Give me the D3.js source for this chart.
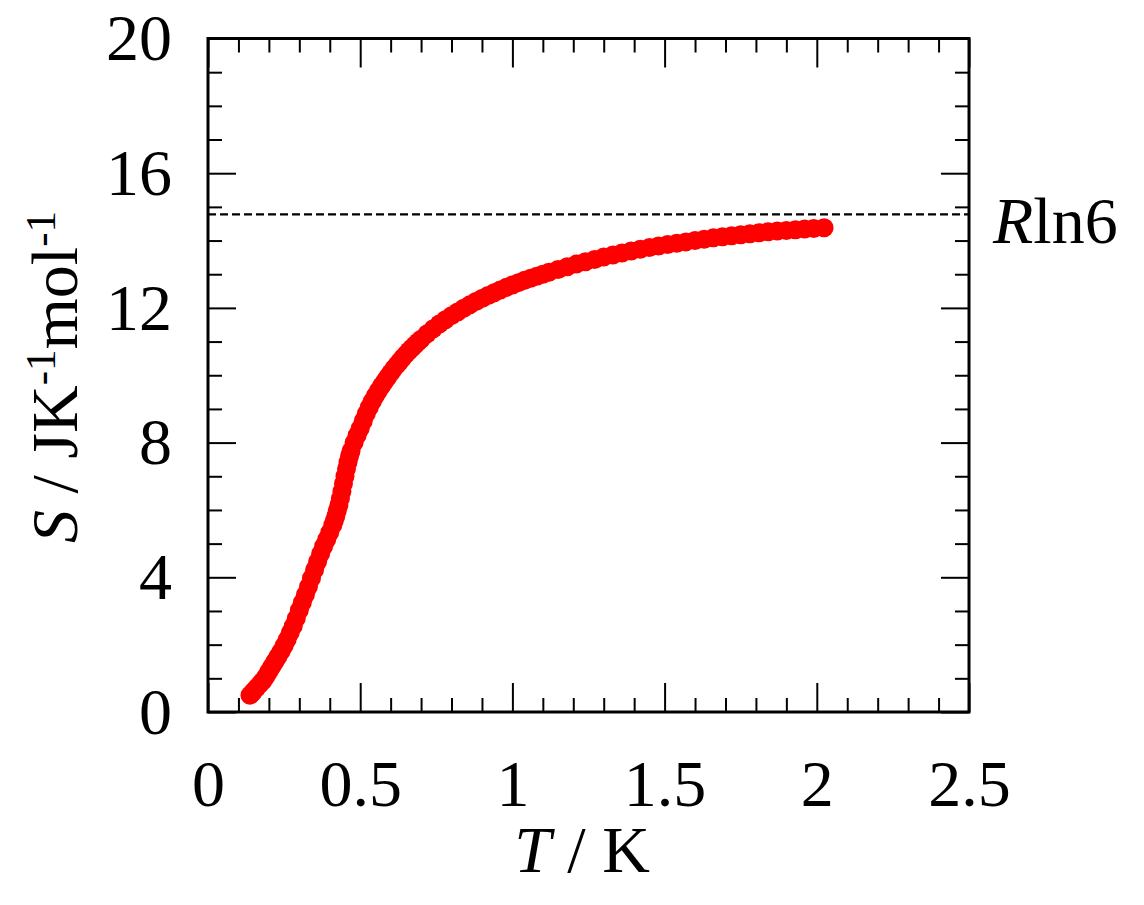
<!DOCTYPE html>
<html>
<head>
<meta charset="utf-8">
<script src="https://cdn.jsdelivr.net/npm/d3@7"></script>
<style>
  html, body { margin: 0; padding: 0; background: #fff; }
  svg { display: block; }
  text { font-family: "Liberation Serif", "Times New Roman", serif; fill: #000; }
</style>
</head>
<body>
<svg id="chart" width="1144" height="905"></svg>
<script>
// ---- data ----
const temperature = [
  0.138, 0.145, 0.15, 0.16, 0.17, 0.18, 0.19, 0.20, 0.21, 0.22, 0.23,
  0.24, 0.25, 0.26, 0.27, 0.28, 0.29, 0.30, 0.31, 0.32, 0.33,
  0.34, 0.35, 0.36, 0.37, 0.38, 0.39, 0.40, 0.41, 0.415, 0.42, 0.425, 0.43,
  0.435, 0.44, 0.445, 0.45, 0.455, 0.46, 0.465, 0.47, 0.48, 0.49, 0.50, 0.51, 0.52, 0.53,
  0.54, 0.55, 0.56, 0.57, 0.58, 0.59, 0.60, 0.61, 0.62, 0.63, 0.64, 0.65, 0.66,
  0.67, 0.68, 0.69, 0.70, 0.72, 0.74, 0.76, 0.78, 0.80, 0.82, 0.84, 0.86,
  0.88, 0.90, 0.92, 0.94, 0.96, 0.98, 1.00, 1.02, 1.04, 1.06, 1.08, 1.10,
  1.12, 1.15, 1.18, 1.21, 1.24, 1.27, 1.30, 1.33, 1.36, 1.39,
  1.42, 1.45, 1.48, 1.51, 1.54, 1.57, 1.60, 1.63, 1.66, 1.69,
  1.72, 1.75, 1.78, 1.81, 1.84, 1.87, 1.90, 1.93, 1.96, 1.99,
  2.024
];
const entropy = [
  0.50, 0.56, 0.62, 0.72, 0.82, 0.92, 1.05, 1.20, 1.35, 1.50, 1.65,
  1.80, 1.97, 2.15, 2.35, 2.55, 2.78, 3.02, 3.25, 3.48, 3.72,
  3.97, 4.22, 4.46, 4.70, 4.92, 5.12, 5.33, 5.55, 5.68, 5.82, 5.98, 6.15,
  6.34, 6.55, 6.78, 7.00, 7.22, 7.42, 7.60, 7.75, 8.00, 8.22, 8.42, 8.64, 8.86, 9.05,
  9.23, 9.39, 9.54, 9.68, 9.81, 9.94, 10.07, 10.19, 10.30, 10.41, 10.52, 10.62, 10.72,
  10.81, 10.90, 10.99, 11.07, 11.23, 11.38, 11.52, 11.65, 11.77, 11.88, 11.99, 12.09,
  12.19, 12.28, 12.37, 12.45, 12.53, 12.61, 12.68, 12.75, 12.82, 12.88, 12.94, 13.00,
  13.06, 13.14, 13.22, 13.30, 13.37, 13.44, 13.51, 13.57, 13.63, 13.69,
  13.74, 13.79, 13.84, 13.88, 13.92, 13.96, 14.00, 14.04, 14.08, 14.11,
  14.14, 14.17, 14.20, 14.23, 14.26, 14.28, 14.30, 14.32, 14.34, 14.36,
  14.38
];
const refLevel = 14.78;     // R ln6 dashed line
const refLabel = "ln6";
const xMajorTicks = [0, 0.5, 1, 1.5, 2, 2.5];
const xTickLabels = ["0", "0.5", "1", "1.5", "2", "2.5"];
const yMajorTicks = [0, 4, 8, 12, 16, 20];
const yTickLabels = ["0", "4", "8", "12", "16", "20"];
const xMinorTicks = [0.1, 0.2, 0.3, 0.4, 0.6, 0.7, 0.8, 0.9, 1.1, 1.2, 1.3, 1.4, 1.6, 1.7, 1.8, 1.9, 2.1, 2.2, 2.3, 2.4];
const yMinorTicks = [1, 2, 3, 5, 6, 7, 9, 10, 11, 13, 14, 15, 17, 18, 19];

// ---- layout ----
const svg = d3.select("#chart");
const pL = 208, pR = 969, pT = 38.5, pB = 712;
const x = d3.scaleLinear().domain([0, 2.5]).range([pL, pR]);
const y = d3.scaleLinear().domain([0, 20]).range([pB, pT]);
const FS = 66;

const points = temperature.map((t, i) => ({ t, s: entropy[i] }));

// dashed reference line
svg.append("line")
  .attr("x1", x(0)).attr("x2", x(2.5))
  .attr("y1", y(refLevel)).attr("y2", y(refLevel))
  .attr("stroke", "#000").attr("stroke-width", 2.2)
  .attr("stroke-dasharray", "8,4");

// data points
svg.append("g").selectAll("circle").data(points).join("circle")
  .attr("cx", d => x(d.t)).attr("cy", d => y(d.s))
  .attr("r", 9.5).attr("fill", "#ff0000");

function styleAxis(g) {
  g.select(".domain").remove();
  g.selectAll(".tick line").attr("stroke", "#000").attr("stroke-width", 2);
  g.selectAll(".tick text").attr("font-size", FS).attr("font-family", '"Liberation Serif", serif');
}

// bottom axis
svg.append("g").attr("transform", `translate(0,${pB})`)
  .call(d3.axisBottom(x).tickValues(xMajorTicks).tickSizeInner(-29).tickSizeOuter(0)
    .tickPadding(47).tickFormat((d, i) => xTickLabels[i]))
  .call(styleAxis);
svg.append("g").attr("transform", `translate(0,${pB})`)
  .call(d3.axisBottom(x).tickValues(xMinorTicks).tickSizeInner(-14).tickSizeOuter(0).tickFormat(""))
  .call(styleAxis);
// top axis
svg.append("g").attr("transform", `translate(0,${pT})`)
  .call(d3.axisTop(x).tickValues(xMajorTicks).tickSizeInner(-29).tickSizeOuter(0).tickFormat(""))
  .call(styleAxis);
svg.append("g").attr("transform", `translate(0,${pT})`)
  .call(d3.axisTop(x).tickValues(xMinorTicks).tickSizeInner(-14).tickSizeOuter(0).tickFormat(""))
  .call(styleAxis);
// left axis
svg.append("g").attr("transform", `translate(${pL},0)`)
  .call(d3.axisLeft(y).tickValues(yMajorTicks).tickSizeInner(-28).tickSizeOuter(0)
    .tickPadding(36).tickFormat((d, i) => yTickLabels[i]))
  .call(styleAxis);
svg.append("g").attr("transform", `translate(${pL},0)`)
  .call(d3.axisLeft(y).tickValues(yMinorTicks).tickSizeInner(-14).tickSizeOuter(0).tickFormat(""))
  .call(styleAxis);
// right axis
svg.append("g").attr("transform", `translate(${pR},0)`)
  .call(d3.axisRight(y).tickValues(yMajorTicks).tickSizeInner(-28).tickSizeOuter(0).tickFormat(""))
  .call(styleAxis);
svg.append("g").attr("transform", `translate(${pR},0)`)
  .call(d3.axisRight(y).tickValues(yMinorTicks).tickSizeInner(-14).tickSizeOuter(0).tickFormat(""))
  .call(styleAxis);

// frame
svg.append("rect")
  .attr("x", pL).attr("y", pT)
  .attr("width", pR - pL).attr("height", pB - pT)
  .attr("fill", "none").attr("stroke", "#000").attr("stroke-width", 3);

// x title
const xt = svg.append("text").attr("x", 582).attr("y", 872)
  .attr("text-anchor", "middle").attr("font-size", FS);
xt.append("tspan").attr("font-style", "italic").text("T");
xt.append("tspan").text(" / K");

// y title
const yt = svg.append("text")
  .attr("transform", "translate(77,377) rotate(-90)")
  .attr("text-anchor", "middle").attr("font-size", FS);
yt.append("tspan").attr("font-style", "italic").text("S");
yt.append("tspan").text(" / JK");
yt.append("tspan").attr("font-size", 43).attr("dy", -22).text("-1");
yt.append("tspan").attr("dy", 22).text("mol");
yt.append("tspan").attr("font-size", 43).attr("dy", -22).text("-1");

// R ln6 label
const rl = svg.append("text").attr("x", 993).attr("y", 243).attr("font-size", FS);
rl.append("tspan").attr("font-style", "italic").text("R");
rl.append("tspan").text(refLabel);
</script>
</body>
</html>
